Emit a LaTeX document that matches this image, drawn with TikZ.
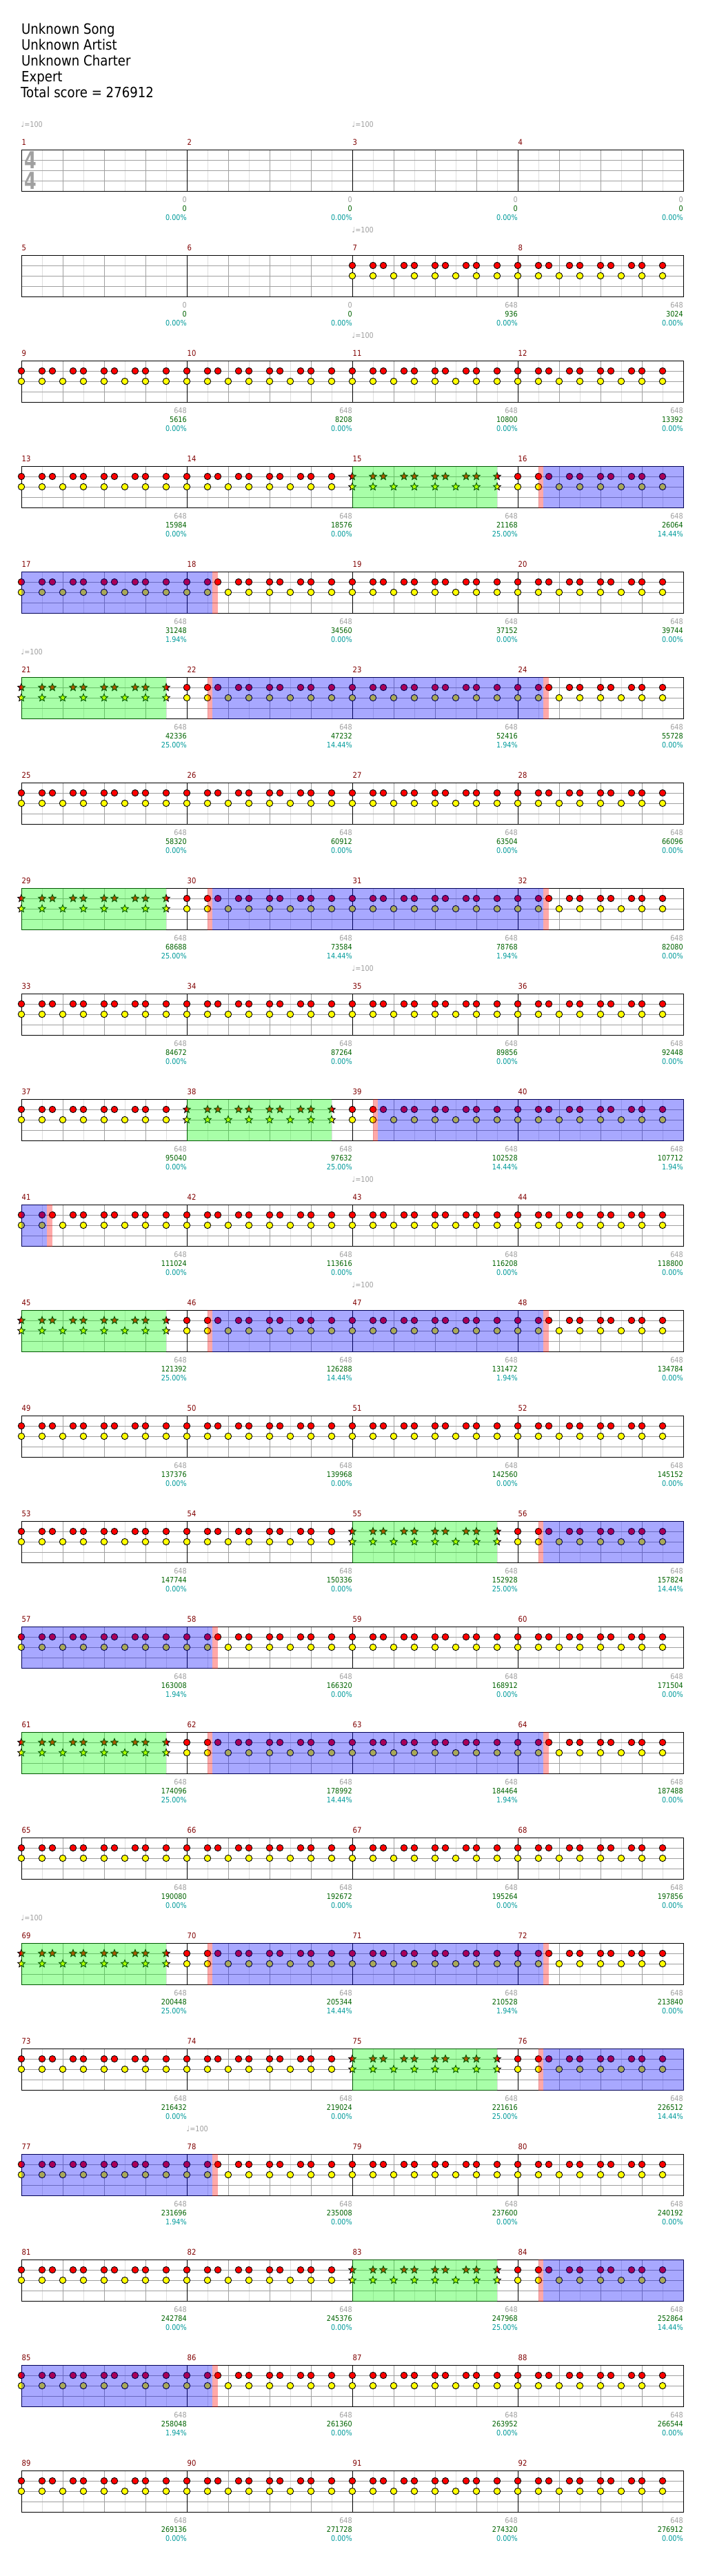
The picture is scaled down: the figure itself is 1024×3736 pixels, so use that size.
\documentclass[tikz,border=0pt]{standalone}
\usepackage{fontspec}
\setmainfont{DejaVu Sans}[FakeStretch=0.88]
\usetikzlibrary{calc}

\definecolor{gridgray}{RGB}{160,160,160}
\definecolor{gridlight}{RGB}{222,222,222}
\definecolor{numred}{RGB}{128,0,0}
\definecolor{scoregreen}{RGB}{0,100,0}
\definecolor{pctteal}{RGB}{0,155,155}
\definecolor{noteyellow}{RGB}{255,255,0}

\newif\ifstarbar
% measure -> left edge and top of its staff
\newcommand{\barxy}[1]{%
  \pgfmathtruncatemacro{\brow}{(#1-1)/4}%
  \pgfmathtruncatemacro{\bcol}{mod(#1-1,4)}%
  \pgfmathsetmacro{\barx}{31+240*\bcol}%
  \pgfmathsetmacro{\bary}{217+153*\brow}}
% see-through band over part of a measure
\newcommand{\ovl}[4]{%
  \barxy{#1}%
  \pgfmathsetmacro{\oa}{\barx+#2-0.5*(#2==0)*(\bcol==0)}%
  \pgfmathsetmacro{\ob}{\barx+#3+0.5*(#3==240)*(\bcol==3)}%
  \fill[#4, fill opacity=0.34] (\oa,\bary-0.5) rectangle (\ob,\bary+60.5);}
\newcommand{\starnote}[3]{%
  \draw[notedot, fill=#3] (#1,#2) +(90:5.6pt) -- +(126:2.5pt) -- +(162:5.6pt) -- +(198:2.5pt) -- +(234:5.6pt) -- +(270:2.5pt) -- +(306:5.6pt) -- +(342:2.5pt) -- +(18:5.6pt) -- +(54:2.5pt) -- cycle;}

\begin{document}
\begin{tikzpicture}[x=1pt, y=-1pt,
    notedot/.style={draw=black, line width=0.9pt},
    halfline/.style={draw=gridlight, line width=1pt},
    beatline/.style={draw=gridgray, line width=1pt},
    barline/.style={draw=black, line width=1pt},
    headline/.style={anchor=base west, inner sep=0pt, font=\fontsize{20.6}{24}\selectfont},
    barnum/.style={anchor=base west, inner sep=0pt, text=numred, font=\fontsize{11.4}{13}\selectfont},
    tally/.style={anchor=base east, inner sep=0pt, font=\fontsize{11}{13}\selectfont},
    tempo/.style={anchor=base west, inner sep=0pt, text=gridgray, font=\fontsize{11}{13}\selectfont},
    timesig/.style={inner sep=0pt, text=gridgray, xscale=0.85, font=\fontsize{34}{36}\selectfont\bfseries}]
  \useasboundingbox (0,0) rectangle (1024,3736);
  \fill[white] (0,0) rectangle (1024,3736); % Draws the page

  \node[headline] (song) at (31,49.3) {Unknown Song};
  \node[headline] (artist) at (31,72.3) {Unknown Artist};
  \node[headline] (charter) at (31,95.3) {Unknown Charter};
  \node[headline] (level) at (31,118.3) {Expert};
  \node[headline] (total) at (30,141.3) {Total score = 276912};

  % staves, four measures a row
  \foreach \r in {0,...,22}{
    \pgfmathsetmacro{\ty}{217+153*\r}
    \foreach \k in {1,3,...,31} \draw[halfline] (31+30*\k,\ty) -- ++(0,60);
    \foreach \k in {2,4,...,30} \draw[beatline] (31+30*\k,\ty) -- ++(0,60);
    \foreach \k in {15,30,45} \draw[beatline] (31,\ty+\k) -- (991,\ty+\k);
    \foreach \k in {1,2,3} \draw[barline] (31+240*\k,\ty) -- ++(0,60);
    \draw[barline] (31,\ty) rectangle (991,\ty+60); % Draws a rectangle
  }
  \node[timesig] (tsup) at (44.5,232.5) {4};
  \node[timesig] (tsdown) at (44.5,262.5) {4};

  % notes
  \foreach \m in {7,...,92}{
    \barxy{\m}
    \global\starbarfalse
    \foreach \g in {15,21,29,38,45,55,61,69,75,83}{\ifnum\m=\g\relax\global\starbartrue\fi}
    \ifstarbar
      \foreach \o in {0,30,45,75,90,120,135,165,180,210}{\starnote{\barx+\o}{\bary+15}{red}}
      \foreach \o in {0,30,...,210}{\starnote{\barx+\o}{\bary+30}{noteyellow}}
    \else
      \foreach \o in {0,30,45,75,90,120,135,165,180,210}{\draw[notedot, fill=red] (\barx+\o,\bary+15) circle[radius=4.7pt];}
      \foreach \o in {0,30,...,210}{\draw[notedot, fill=noteyellow] (\barx+\o,\bary+30) circle[radius=4.7pt];}
    \fi
  }

  % star power and overdrive bands
  \foreach \g in {15,21,29,38,45,55,61,69,75,83}{
    \pgfmathtruncatemacro{\ga}{\g+1}
    \pgfmathtruncatemacro{\gb}{\g+2}
    \pgfmathtruncatemacro{\gc}{\g+3}
    \ovl{\g}{0}{210}{green}
    \ovl{\ga}{30}{36.5}{red}
    \ovl{\ga}{36.5}{240}{blue}
    \ovl{\gb}{0}{240}{blue}
    \ovl{\gc}{0}{37}{blue}
    \ovl{\gc}{37}{44.5}{red}
  }

  \foreach \m in {1,...,92}{
    \barxy{\m}
    \node[barnum] (num\m) at (\barx+0.5,\bary-6.5) {\m};
  }
  \foreach \m in {1,3,7,11,21,35,43,47,69,78}{
    \barxy{\m}
    \node[tempo] (bpm\m) at (\barx-0.5,\bary-33) {♩=100};
  }

  % counts under each measure
  \foreach \m/\sc/\pc in {1/0/0.00, 2/0/0.00, 3/0/0.00, 4/0/0.00,
      5/0/0.00, 6/0/0.00, 7/936/0.00, 8/3024/0.00,
      9/5616/0.00, 10/8208/0.00, 11/10800/0.00, 12/13392/0.00,
      13/15984/0.00, 14/18576/0.00, 15/21168/25.00, 16/26064/14.44,
      17/31248/1.94, 18/34560/0.00, 19/37152/0.00, 20/39744/0.00,
      21/42336/25.00, 22/47232/14.44, 23/52416/1.94, 24/55728/0.00,
      25/58320/0.00, 26/60912/0.00, 27/63504/0.00, 28/66096/0.00,
      29/68688/25.00, 30/73584/14.44, 31/78768/1.94, 32/82080/0.00,
      33/84672/0.00, 34/87264/0.00, 35/89856/0.00, 36/92448/0.00,
      37/95040/0.00, 38/97632/25.00, 39/102528/14.44, 40/107712/1.94,
      41/111024/0.00, 42/113616/0.00, 43/116208/0.00, 44/118800/0.00,
      45/121392/25.00, 46/126288/14.44, 47/131472/1.94, 48/134784/0.00,
      49/137376/0.00, 50/139968/0.00, 51/142560/0.00, 52/145152/0.00,
      53/147744/0.00, 54/150336/0.00, 55/152928/25.00, 56/157824/14.44,
      57/163008/1.94, 58/166320/0.00, 59/168912/0.00, 60/171504/0.00,
      61/174096/25.00, 62/178992/14.44, 63/184464/1.94, 64/187488/0.00,
      65/190080/0.00, 66/192672/0.00, 67/195264/0.00, 68/197856/0.00,
      69/200448/25.00, 70/205344/14.44, 71/210528/1.94, 72/213840/0.00,
      73/216432/0.00, 74/219024/0.00, 75/221616/25.00, 76/226512/14.44,
      77/231696/1.94, 78/235008/0.00, 79/237600/0.00, 80/240192/0.00,
      81/242784/0.00, 82/245376/0.00, 83/247968/25.00, 84/252864/14.44,
      85/258048/1.94, 86/261360/0.00, 87/263952/0.00, 88/266544/0.00,
      89/269136/0.00, 90/271728/0.00, 91/274320/0.00, 92/276912/0.00}{
    \barxy{\m}
    \ifnum\m<7 \def\nn{0}\else\def\nn{648}\fi
    \node[tally, text=gridgray] (notes\m) at (\barx+240,\bary+76) {\nn};
    \node[tally, text=scoregreen] (score\m) at (\barx+240,\bary+89) {\sc};
    \node[tally, text=pctteal] (pct\m) at (\barx+240,\bary+102) {\pc\%};
  }
\end{tikzpicture}
\end{document}
